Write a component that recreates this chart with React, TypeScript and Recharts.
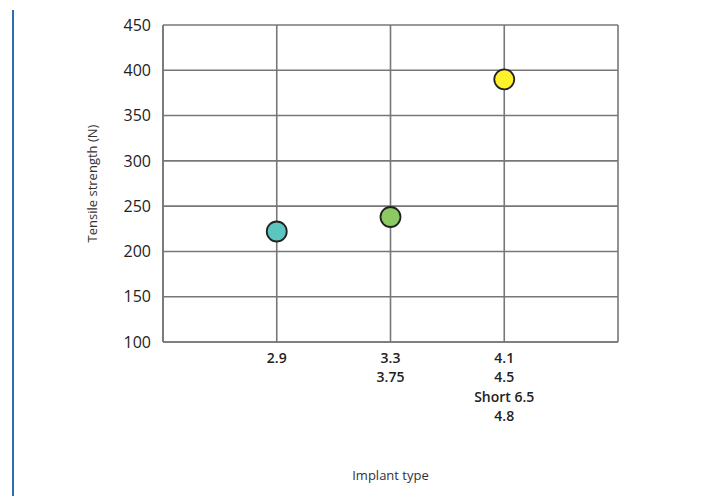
import { CartesianGrid, Cell, Label, Scatter, ScatterChart, XAxis, YAxis } from "recharts";

const implantLabels = [["2.9"], ["3.3", "3.75"], ["4.1", "4.5", "Short 6.5", "4.8"]];
const positions = [1, 2, 3];
const strengths = [222, 238, 390];
const colors = ["#5bc5bf", "#8cc963", "#fff12a"];
const yTicks = [100, 150, 200, 250, 300, 350, 400, 450];
const xTicks = [1, 2, 3, 4];

const data = positions.map((x, i) => ({ x, y: strengths[i] }));

const font = "'Open Sans', 'DejaVu Sans', sans-serif";
const grid = "#777";

function XTick(props: any) {
  const { x, y, payload } = props;
  const lines = implantLabels[payload.value - 1];
  if (!lines) return null;
  return (
    <g>
      {lines.map((l, i) => (
        <text
          key={i}
          x={x}
          y={y + 13 + i * 19.3}
          textAnchor="middle"
          fontSize={14}
          fontWeight={600}
          fill="#222"
          fontFamily={font}
        >
          {l}
        </text>
      ))}
    </g>
  );
}

function Dot(props: any) {
  const { cx, cy, fill } = props;
  return <circle cx={cx} cy={cy} r={10} fill={fill} stroke="#222" strokeWidth={1.8} />;
}

export default function App() {
  return (
    <div style={{ position: "fixed", left: 0, top: 0, width: 727, height: 502, background: "#fff" }}>
      <div
        style={{ position: "absolute", left: 12, top: 10, width: 2, height: 486, background: "#2e6db4" }}
      />
      <ScatterChart width={727} height={502} margin={{ top: 25, right: 109, bottom: 0, left: 0 }}>
        <CartesianGrid stroke={grid} strokeWidth={1.6} />
        <XAxis
          type="number"
          dataKey="x"
          domain={[0, 4]}
          ticks={xTicks}
          tick={<XTick />}
          tickLine={false}
          axisLine={{ stroke: grid, strokeWidth: 1.6 }}
          height={160}
          interval={0}
        >
          <Label
            value="Implant type"
            position="insideBottom"
            offset={22}
            style={{ fontFamily: font, fontSize: 13, fill: "#333" }}
          />
        </XAxis>
        <YAxis
          type="number"
          dataKey="y"
          domain={[100, 450]}
          ticks={yTicks}
          width={163}
          tickLine={false}
          tickMargin={6}
          axisLine={{ stroke: grid, strokeWidth: 1.6 }}
          tick={{ fontSize: 16, fill: "#222", fontFamily: font }}
          interval={0}
        >
          <Label
            value="Tensile strength (N)"
            angle={-90}
            position="insideLeft"
            offset={92}
            style={{ fontFamily: font, fontSize: 13, fill: "#333", textAnchor: "middle" }}
          />
        </YAxis>
        <Scatter data={data} shape={<Dot />} isAnimationActive={false}>
          {data.map((_, i) => (
            <Cell key={i} fill={colors[i]} />
          ))}
        </Scatter>
      </ScatterChart>
    </div>
  );
}
